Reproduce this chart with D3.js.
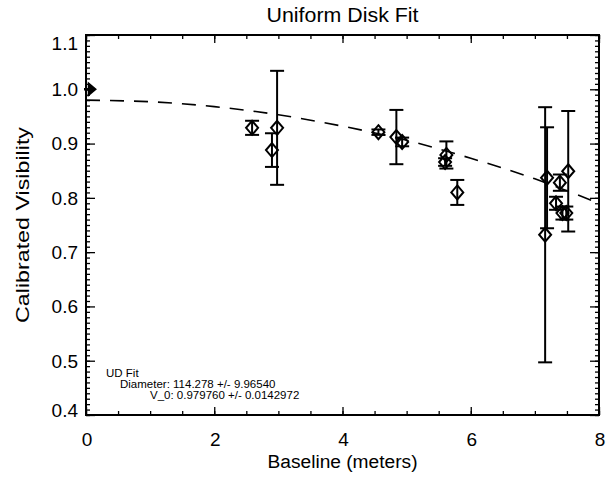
<!DOCTYPE html>
<html>
<head>
<meta charset="utf-8">
<script src="https://cdn.jsdelivr.net/npm/d3@7"></script>
<style>
  body { margin: 0; background: #fff; }
  text { font-family: "Liberation Sans", Arial, sans-serif; fill: #000; }
</style>
</head>
<body>
<svg id="chart" width="616" height="479"></svg>
<script>
// measured points (baseline in m, calibrated visibility, 1-sigma error)
const baseline = [2.59, 2.90, 2.98, 4.56, 4.84, 4.93, 5.60, 5.62, 5.79, 7.16, 7.19, 7.33, 7.39, 7.43, 7.49, 7.52];
const visibility = [0.929, 0.888, 0.929, 0.921, 0.912, 0.903, 0.866, 0.879, 0.810, 0.732, 0.837, 0.790, 0.828, 0.772, 0.772, 0.849];
const visErr = [0.013, 0.031, 0.105, 0.005, 0.050, 0.008, 0.007, 0.025, 0.023, 0.235, 0.093, 0.012, 0.015, 0.012, 0.012, 0.111];

// zero baseline calibration point
const zeroPoint = { b: 0, v: 1.0 };

// uniform disk fit
const fitBaseline = [0, 1, 2, 3, 4, 5, 6, 7, 8];
const fitVis = [0.980, 0.977, 0.968, 0.953, 0.932, 0.906, 0.873, 0.835, 0.790];

const xTicks = [0, 2, 4, 6, 8];
const yTicks = [0.4, 0.5, 0.6, 0.7, 0.8, 0.9, 1.0, 1.1];
const fitText = ['UD Fit', 'Diameter: 114.278 +/- 9.96540', 'V_0: 0.979760 +/- 0.0142972'];

const svg = d3.select('#chart');
const mLeft = 86, mRight = 599, mTop = 35, mBottom = 415;

const x = d3.scaleLinear().domain([0, 8]).range([mLeft, mRight]);
const y = d3.scaleLinear().domain([0.4, 1.1]).range([mBottom, mTop]);

// title
svg.append('text')
    .attr('x', (mLeft + mRight) / 2).attr('y', 22)
    .attr('text-anchor', 'middle')
    .attr('textLength', 152)
    .attr('lengthAdjust', 'spacingAndGlyphs')
    .style('font-size', '21px')
    .text('Uniform Disk Fit');

// axes with inward ticks, IDL style
const minorX = d3.range(0, 8.01, 0.5);
const minorY = d3.range(40, 111).map(d => d / 100);

function tickAxis(axisFn, scale, values, size) {
    return axisFn(scale).tickValues(values).tickSize(size).tickFormat('');
}

const gB = svg.append('g').attr('transform', `translate(0,${mBottom})`);
gB.call(tickAxis(d3.axisTop, x, minorX, 4));
gB.append('g').call(tickAxis(d3.axisTop, x, xTicks, 8));
const gT = svg.append('g').attr('transform', `translate(0,${mTop})`);
gT.call(tickAxis(d3.axisBottom, x, minorX, 4));
gT.append('g').call(tickAxis(d3.axisBottom, x, xTicks, 8));
const gL = svg.append('g').attr('transform', `translate(${mLeft},0)`);
gL.call(tickAxis(d3.axisRight, y, minorY, 4));
gL.append('g').call(tickAxis(d3.axisRight, y, yTicks, 9));
const gR = svg.append('g').attr('transform', `translate(${mRight},0)`);
gR.call(tickAxis(d3.axisLeft, y, minorY, 4));
gR.append('g').call(tickAxis(d3.axisLeft, y, yTicks, 9));

svg.selectAll('.domain').remove();
svg.selectAll('.tick line').attr('stroke', '#000').attr('stroke-width', 1.3);

// frame
svg.append('rect')
    .attr('x', mLeft).attr('y', mTop)
    .attr('width', mRight - mLeft).attr('height', mBottom - mTop)
    .attr('fill', 'none').attr('stroke', '#000').attr('stroke-width', 2);

// tick labels
svg.append('g').selectAll('text')
    .data(xTicks)
    .enter().append('text')
    .attr('x', d => x(d) + 1).attr('y', 446)
    .attr('text-anchor', 'middle')
    .style('font-size', '19px')
    .text(d => d);

svg.append('g').selectAll('text')
    .data(yTicks)
    .enter().append('text')
    .attr('x', mLeft - 8)
    .attr('y', d => Math.min(Math.max(y(d), mTop + 8), mBottom - 5))
    .attr('dy', '0.36em')
    .attr('text-anchor', 'end')
    .style('font-size', '19px')
    .text(d => d.toFixed(1));

// axis titles
svg.append('text')
    .attr('x', (mLeft + mRight) / 2).attr('y', 468)
    .attr('text-anchor', 'middle')
    .attr('textLength', 150)
    .attr('lengthAdjust', 'spacingAndGlyphs')
    .style('font-size', '18px')
    .text('Baseline (meters)');

svg.append('text')
    .attr('transform', `translate(29,${(mTop + mBottom) / 2}) rotate(-90)`)
    .attr('text-anchor', 'middle')
    .attr('textLength', 196)
    .attr('lengthAdjust', 'spacingAndGlyphs')
    .style('font-size', '18px')
    .text('Calibrated Visibility');

// dashed fit curve
const line = d3.line()
    .x((d, i) => x(fitBaseline[i]))
    .y(d => y(d))
    .curve(d3.curveNatural);

svg.append('path')
    .datum(fitVis)
    .attr('d', line)
    .attr('fill', 'none')
    .attr('stroke', '#000')
    .attr('stroke-width', 1.6)
    .attr('stroke-dasharray', '14,10');

// error bars
const pts = baseline.map((b, i) => ({ b: b, v: visibility[i], e: visErr[i] }));
const capW = 7;
const eb = svg.append('g').attr('stroke', '#000').attr('stroke-width', 2);
pts.forEach(p => {
    const cx = x(p.b);
    eb.append('line').attr('x1', cx).attr('x2', cx).attr('y1', y(p.v - p.e)).attr('y2', y(p.v + p.e));
    eb.append('line').attr('x1', cx - capW).attr('x2', cx + capW).attr('y1', y(p.v + p.e)).attr('y2', y(p.v + p.e));
    eb.append('line').attr('x1', cx - capW).attr('x2', cx + capW).attr('y1', y(p.v - p.e)).attr('y2', y(p.v - p.e));
});

// diamonds
const diamond = 'M0,-7L6,0L0,7L-6,0Z';
svg.append('g').selectAll('path')
    .data(pts)
    .enter().append('path')
    .attr('d', diamond)
    .attr('transform', d => `translate(${x(d.b)},${y(d.v)})`)
    .attr('fill', 'none')
    .attr('stroke', '#000')
    .attr('stroke-width', 2);

// zero baseline point
svg.append('path')
    .attr('d', 'M-5,0L5,0M0,-5L6,0L0,5Z')
    .attr('transform', `translate(${x(zeroPoint.b) + 3},${y(zeroPoint.v)})`)
    .attr('fill', '#000')
    .attr('stroke', '#000')
    .attr('stroke-width', 2.5);

// fit parameters
const ft = svg.append('g').style('font-size', '11.5px');
ft.append('text').attr('x', 106).attr('y', 377).text(fitText[0]);
ft.append('text').attr('x', 120).attr('y', 388).text(fitText[1]);
ft.append('text').attr('x', 150).attr('y', 399).text(fitText[2]);
</script>
</body>
</html>
